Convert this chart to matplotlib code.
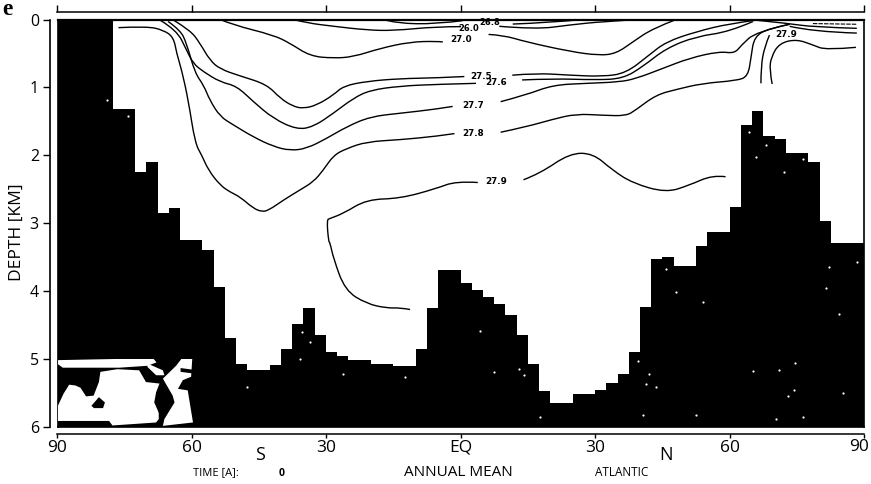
"""
plot.py

Atlantic zonal mean section: density contours over the bottom topography,
annual mean, with a small world map in the lower left corner.
"""

import matplotlib.pyplot as plt
from matplotlib.patches import PathPatch, Polygon
from matplotlib.path import Path
import numpy as np

nan = np.nan

# bottom depth [km] for each 2.5 degree column, south to north
lat_edges = np.linspace(-90.2, 90.1, 73)
bottom_depth = [
    0.0, 0.0, 0.0, 0.0, 0.0, 1.32, 1.32, 2.25, 2.10, 2.85, 2.78, 3.24,
    3.24, 3.40, 3.94, 4.69, 5.07, 5.16, 5.16, 5.09, 4.85, 4.49, 4.25, 4.65,
    4.90, 4.96, 5.01, 5.01, 5.07, 5.07, 5.10, 5.10, 4.85, 4.25, 3.69, 3.69,
    3.88, 3.99, 4.09, 4.19, 4.35, 4.65, 5.07, 5.47, 5.65, 5.65, 5.51, 5.51,
    5.46, 5.35, 5.22, 4.90, 4.24, 3.53, 3.49, 3.63, 3.63, 3.34, 3.13, 3.13,
    2.76, 1.56, 1.35, 1.71, 1.76, 1.96, 1.96, 2.10, 2.97, 3.29, 3.29, 3.29,
]

# isopycnals, nan marks the gap left for the label
iso_a_lat = [-37.4, -34.4, -28.4, -21.0, -15.0, -5.5, 0.07, nan, 8.6, 16.8, 24.3, 31.7, 39.9]
iso_a_dep = [0.0, 0.05, 0.10, 0.155, 0.165, 0.105, 0.105, nan, 0.10, 0.145, 0.08, 0.03, 0.0]

iso_b_lat = [-17.3, -14.3, -5.5, 0.4, nan, 11.6, 19.8, 27.2]
iso_b_dep = [0.0, 0.057, 0.067, 0.017, nan, 0.067, 0.047, 0.0]

iso_270_lat = [-53.7, -50.8, -41.8, -38.1, -33.6, -28.4, -24.0, -18.0, -11.3, -5.5, -4.0, nan,
               6.2, 9.4, 14.6, 24.3, 30.9, 34.7, 38.4, 42.9, 48.1]
iso_270_dep = [0.0, 0.08, 0.23, 0.35, 0.54, 0.57, 0.55, 0.425, 0.33, 0.32, 0.33, nan,
               0.22, 0.23, 0.33, 0.47, 0.53, 0.50, 0.33, 0.13, 0.0]

iso_275_lat = [-64.1, -60.4, -58.2, -56.0, -53.7, -49.3, -43.3, -40.3, -37.4, -35.1, -32.1,
               -28.4, -26.2, -21.0, -13.5, -5.5, 0.8, nan,
               11.5, 16.8, 24.3, 31.7, 36.9, 42.1, 45.8, 52.5, 60.0, 65.9]
iso_275_dep = [0.01, 0.155, 0.35, 0.60, 0.73, 0.83, 0.955, 1.16, 1.28, 1.31, 1.26,
               1.11, 0.98, 0.91, 0.87, 0.86, 0.84, nan,
               0.82, 0.79, 0.82, 0.84, 0.79, 0.52, 0.33, 0.18, 0.06, 0.01]

iso_276_lat = [-67.1, -63.4, -61.2, -59.7, -57.4, -53.7, -50.0, -46.3, -41.8, -36.6, -32.9,
               -28.4, -24.0, -20.2, -13.5, -5.5, 3.4, nan,
               13.7, 20.5, 30.2, 36.2, 40.6, 45.8, 52.5, 60.0, 65.2]
iso_276_dep = [0.01, 0.155, 0.45, 0.65, 0.77, 0.92, 0.98, 1.21, 1.46, 1.62, 1.58,
               1.38, 1.16, 1.04, 0.98, 0.955, 0.94, nan,
               0.89, 0.87, 0.89, 0.87, 0.695, 0.425, 0.25, 0.18, 0.03]

iso_277_lat = [-65.3, -62.6, -61.2, -59.3, -57.4, -56.0, -53.7, -50.8, -46.3, -41.8, -38.1,
               -34.4, -29.9, -25.5, -20.2, -13.5, -5.5, -1.8, nan,
               8.9, 14.6, 20.5, 28.0, 35.4, 39.1, 45.1, 51.0, 57.7, 61.1, 62.6, 65.9, 73.4]
iso_277_dep = [0.03, 0.155, 0.35, 0.79, 0.965, 1.19, 1.43, 1.55, 1.73, 1.87, 1.93,
               1.90, 1.75, 1.58, 1.43, 1.38, 1.32, 1.28, nan,
               1.21, 1.11, 0.965, 0.94, 0.92, 0.87, 0.72, 0.57, 0.47, 0.50, 0.38, 0.18, 0.07]

iso_278_lat = [-76.4, -70.1, -66.4, -64.1, -63.4, -62.3, -60.8, -59.3, -57.8, -56.3, -53.7,
               -51.5, -49.3, -46.3, -44.4, -42.9, -39.6, -35.9, -32.9, -30.7, -28.4, -25.5,
               -21.0, -13.5, -5.5, -1.4, nan,
               8.9, 14.6, 20.5, 25.7, 31.7, 36.9, 39.1, 43.6, 48.1, 54.0, 61.5, 64.1, 64.8,
               65.5, 68.9, 73.4]
iso_278_dep = [0.12, 0.10, 0.155, 0.26, 0.50, 0.74, 1.19, 1.82, 2.00, 2.22, 2.44,
               2.54, 2.61, 2.78, 2.83, 2.81, 2.66, 2.51, 2.39, 2.22, 2.00, 1.90,
               1.80, 1.77, 1.72, 1.68, nan,
               1.66, 1.58, 1.47, 1.39, 1.41, 1.42, 1.33, 1.11, 1.03, 0.94, 0.90, 0.84, 0.55,
               0.25, 0.13, 0.07]

iso_279_lat = [-11.3, -13.5, -16.5, -21.0, -25.8, -28.4, -29.2, -29.5, -29.9, -29.2, -26.2,
               -21.0, -13.5, -5.5, -1.05, 3.8, nan,
               14.0, 17.6, 24.3, 29.5, 33.9, 38.4, 45.8, 51.0, 56.2, 59.1]
iso_279_dep = [4.27, 4.244, 4.25, 4.185, 3.99, 3.52, 3.28, 3.27, 2.95, 2.93, 2.855,
               2.65, 2.635, 2.49, 2.38, 2.40, nan,
               2.36, 2.27, 1.97, 1.97, 2.22, 2.41, 2.55, 2.44, 2.29, 2.315]

# the short pieces against the northern boundary
north_a_lat = [67.0, 67.0, 67.8, 68.9]
north_a_dep = [0.94, 0.695, 0.40, 0.23]
north_b_lat = [69.5, 68.9, 69.3, 71.1, 74.9, 78.6, 81.5, 88.2]
north_b_dep = [0.95, 0.74, 0.55, 0.35, 0.29, 0.375, 0.45, 0.41]
north_c_lat = [65.9, 73.4, 78.6, 88.4]
north_c_dep = [0.01, 0.06, 0.11, 0.13]
north_d_lat = [73.4, 78.6, 88.4]
north_d_dep = [0.10, 0.18, 0.20]

iso_lines = [
    (iso_a_lat, iso_a_dep), (iso_b_lat, iso_b_dep), (iso_270_lat, iso_270_dep),
    (iso_275_lat, iso_275_dep), (iso_276_lat, iso_276_dep), (iso_277_lat, iso_277_dep),
    (iso_278_lat, iso_278_dep), (iso_279_lat, iso_279_dep), (north_a_lat, north_a_dep),
    (north_b_lat, north_b_dep), (north_c_lat, north_c_dep), (north_d_lat, north_d_dep),
]

label_texts = ["26.0", "26.8", "27.0", "27.5", "27.6", "27.7", "27.8", "27.9", "27.9"]
label_lat = [1.8, 6.5, 0.07, 4.5, 7.9, 2.7, 2.8, 7.9, 72.6]
label_dep = [0.13, 0.05, 0.30, 0.84, 0.93, 1.265, 1.68, 2.39, 0.22]

# white flecks of the scan in the black topography
speck_lat = [85.3, 70.4, 74.3, 42.1, 74.7, 65.2, 71.1, 84.5, 81.5, 54.0, 45.8, 41.4, 39.5, 43.6,
             48.1, 88.4, 82.3, 73.0, 13.1, 7.5, 14.2, 4.2, 17.6, 76.3, 40.6, 52.5, 68.1, 65.9,
             76.3, 64.4, 72.2, -33.6, -35.5, -35.9, -26.2, -12.4, -47.8, -74.2, -79.0]
speck_dep = [5.50, 5.88, 5.46, 5.22, 5.06, 5.17, 5.16, 4.33, 3.96, 4.16, 3.67, 5.36, 5.03, 5.41,
             4.01, 3.57, 3.65, 5.55, 5.14, 5.19, 5.24, 4.59, 5.85, 5.85, 5.83, 5.82, 1.85, 2.02,
             2.05, 1.65, 2.24, 4.75, 4.60, 5.00, 5.22, 5.27, 5.41, 1.42, 1.19]

# world map inset, longitude / latitude outlines
map_north_band = [(-180, 87), (74, 92), (83, 81), (59, 72), (-16, 67), (-166, 67), (-180, 77)]
map_ne_band = [(135, 72), (149, 90), (178, 90), (175, 43), (153, 34), (140, 11), (166, 7),
               (180, -78), (100, -87), (104, -69), (131, -25), (126, -7), (100, 38)]
map_pacific = [(-179, -74), (-179, -34), (-164, -2), (-149, 22), (-133, 20), (-119, 14), (-104, -9),
               (-84, -7), (-70, 29), (-66, 56), (-21, 63), (37, 60), (55, 29), (91, 25), (82, 2),
               (77, -25), (89, -52), (89, -69), (82, -78), (-34, -86), (-43, -74)]
map_wiggle = [(59, 78), (100, 60), (104, 47), (82, 47), (59, 69)]
map_australia = [(-90, -34), (-70, -11), (-54, -25), (-59, -40), (-83, -40)]
map_america = [(82, 2), (113, -9), (101, -52), (89, -52)]
map_notch = [(147, 66), (178, 62), (178, 52), (147, 56)]


def smooth_line(ax, lat, dep, **kw):
    # draw each piece as quadratic curves through the midpoints of the read points
    lat = np.asarray(lat, dtype=float)
    dep = np.asarray(dep, dtype=float)
    breaks = np.flatnonzero(np.isnan(lat))
    for x, y in zip(np.split(lat, breaks), np.split(dep, breaks)):
        keep = ~np.isnan(x)
        pts = np.column_stack([x[keep], y[keep]])
        verts = [pts[0]]
        codes = [Path.MOVETO]
        for i in range(1, len(pts) - 1):
            end = pts[i + 1] if i == len(pts) - 2 else (pts[i] + pts[i + 1]) / 2
            verts += [pts[i], end]
            codes += [Path.CURVE3, Path.CURVE3]
        if len(pts) == 2:
            verts.append(pts[1])
            codes.append(Path.LINETO)
        ax.add_patch(PathPatch(Path(verts, codes), fc="none", **kw))


fig = plt.figure(figsize=(8.71, 4.84), dpi=100)
ax = fig.add_axes([57.5 / 871, 57 / 484, 806.5 / 871, 407.5 / 484])
ax.set_xlim(-90, 90)
ax.set_ylim(6, 0)
ax.set_xticks([])
ax.set_yticks([])
for spine in ax.spines.values():
    spine.set_linewidth(1.2)
ax.spines["top"].set_linewidth(1.6)

# topography, filled from the sea floor down
ax.stairs(bottom_depth, lat_edges, baseline=6, fill=True, color="black", zorder=2)
ax.scatter(speck_lat, speck_dep, s=2.5, c="white", linewidths=0, zorder=3)

for lat, dep in iso_lines:
    smooth_line(ax, lat, dep, ec="black", lw=1.0, zorder=4)
ax.plot([78.6, 88.4], [0.06, 0.07], color="black", lw=0.8, ls=(0, (4, 1)), zorder=4)

for txt, lat, dep in zip(label_texts, label_lat, label_dep):
    ax.text(lat, dep, txt, fontsize=6.0 if dep < 0.2 else 6.3, fontweight="bold",
            family="DejaVu Sans", ha="center", va="center", zorder=5)

# outer axes lines, set off from the frame
top = ax.secondary_xaxis(1 + 7.5 / 407.5)
top.set_xticks([-90, -60, -30, 0, 30, 60, 90])
top.set_xticklabels([])
top.tick_params(length=5, width=1.0)
top.spines["top"].set_linewidth(1.1)

bottom = ax.secondary_xaxis(-7 / 407.5)
bottom.set_xticks([-90, -60, -30, 0, 30, 60, 90])
# the last label sits inside the edge of the page, placed with the other texts below
bottom.set_xticklabels(["90", "60", "30", "EQ", "30", "60", ""], fontsize=12.5, family="Open Sans")
bottom.tick_params(length=3, width=1.0, pad=1)
bottom.spines["bottom"].set_linewidth(1.1)

left = ax.secondary_yaxis(-7.5 / 806.5)
left.set_yticks([0, 1, 2, 3, 4, 5, 6])
left.set_yticklabels(["0", "1", "2", "3", "4", "5", "6"], fontsize=11.5, family="Open Sans")
left.tick_params(length=5, width=1.0, pad=3)
left.spines["left"].set_linewidth(1.2)


def fig_text(x, y, s, **kw):
    fig.text(x / 871, 1 - y / 484, s, ha="center", va="center", family="Open Sans", **kw)


fig_text(859, 447, "90", fontsize=12.5)
fig_text(17, 232, "DEPTH [KM]", fontsize=12.5, rotation=90)
fig_text(260, 455, "S", fontsize=13)
fig_text(666, 455, "N", fontsize=13)
fig_text(216, 473, "TIME [A]:", fontsize=8)
fig_text(282, 473, "0", fontsize=7.5, fontweight="bold")
fig_text(458, 473, "ANNUAL MEAN", fontsize=11)
fig_text(622, 472, "ATLANTIC", fontsize=8.5)
fig.text(2 / 871, 1 - 15 / 484, "e", fontsize=17, family="Liberation Serif", fontweight="bold")

# map inset in the corner of the black topography
inset = fig.add_axes([57.5 / 871, 57 / 484, 135.5 / 871, 68 / 484], facecolor="black", zorder=6)
inset.set_xlim(-180, 180)
inset.set_ylim(-90, 90)
inset.axis("off")
for outline in [map_north_band, map_ne_band, map_pacific, map_wiggle]:
    inset.add_patch(Polygon(outline, closed=True, fc="white", ec="none"))
for outline in [map_australia, map_america, map_notch]:
    inset.add_patch(Polygon(outline, closed=True, fc="black", ec="none"))

fig.savefig("out.png", dpi=100)
plt.close(fig)
